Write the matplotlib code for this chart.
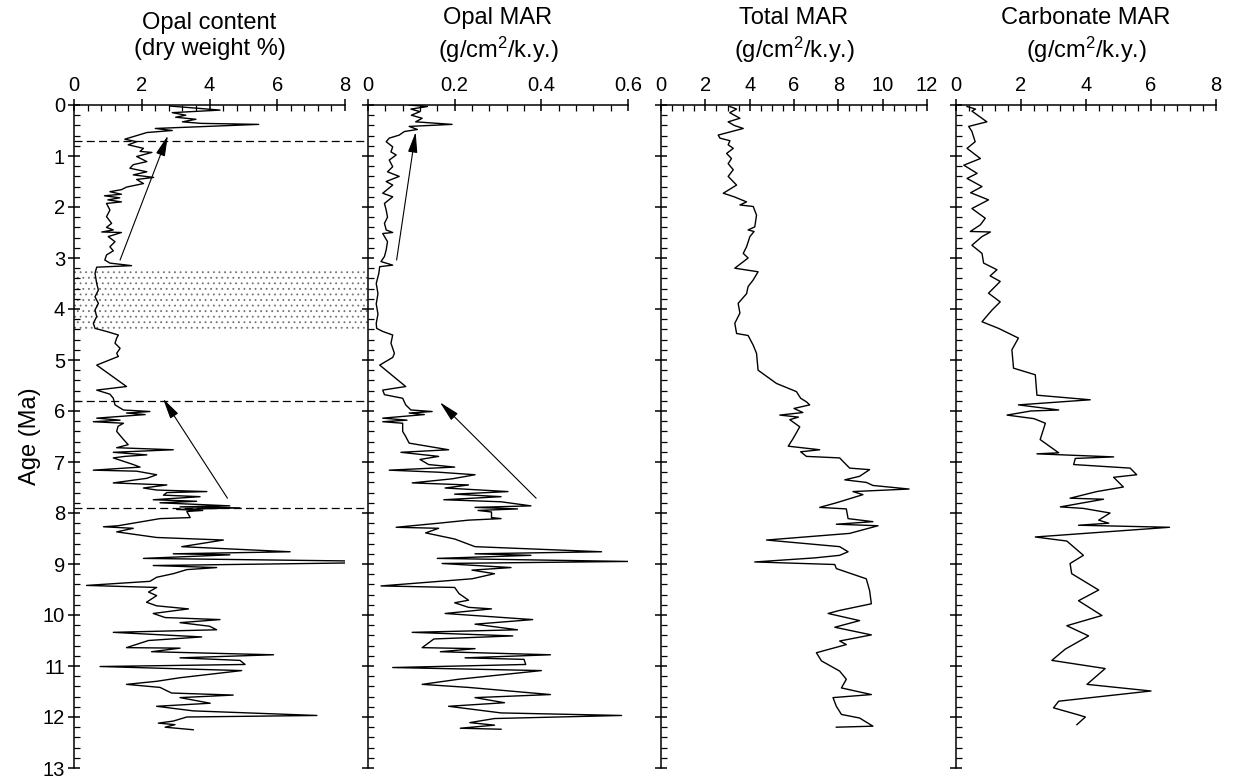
#!/usr/bin/env python3
import matplotlib
matplotlib.use("Agg")
import matplotlib.pyplot as plt
from matplotlib.patches import Rectangle
from matplotlib.ticker import MultipleLocator
import matplotlib.transforms as mtransforms

plt.rcParams["font.family"] = ["Liberation Sans", "DejaVu Sans"]
plt.rcParams["mathtext.default"] = "regular"
plt.rcParams["hatch.linewidth"] = 0.6

# Opal content (dry weight %)
opal_age = [0.02, 0.10, 0.15, 0.20, 0.24, 0.28, 0.33, 0.36, 0.38, 0.46, 0.50, 0.54, 0.62,
            0.67, 0.72, 0.78, 0.85, 0.91, 0.93, 1.01, 1.11, 1.17, 1.24, 1.31, 1.37, 1.42,
            1.46, 1.54, 1.61, 1.66, 1.70, 1.75, 1.78, 1.82, 1.86, 1.90, 1.93, 2.06, 2.19,
            2.32, 2.40, 2.45, 2.49, 2.50, 2.58, 2.68, 2.78, 2.86, 2.94, 3.04, 3.10, 3.15,
            3.18, 3.30, 3.50, 3.63, 3.76, 3.89, 4.02, 4.15, 4.28, 4.38, 4.44, 4.51, 4.57,
            4.67, 4.77, 4.87, 4.93, 5.10, 5.52, 5.59, 5.67, 5.75, 5.88, 5.98, 6.01, 6.04,
            6.07, 6.14, 6.18, 6.21, 6.24, 6.30, 6.40, 6.55, 6.66, 6.72, 6.76, 6.81, 6.86,
            6.89, 6.92, 7.05, 7.10, 7.16, 7.18, 7.25, 7.32, 7.41, 7.45, 7.51, 7.55, 7.58,
            7.60, 7.65, 7.68, 7.74, 7.77, 7.80, 7.86, 7.88, 7.90, 7.93, 7.95, 7.97, 8.09,
            8.11, 8.20, 8.25, 8.27, 8.30, 8.37, 8.48, 8.53, 8.66, 8.76, 8.80, 8.82, 8.89,
            8.94, 8.98, 9.03, 9.07, 9.11, 9.19, 9.26, 9.34, 9.42, 9.46, 9.55, 9.62, 9.75,
            9.82, 9.88, 9.97, 10.05, 10.09, 10.15, 10.22, 10.29, 10.34, 10.43, 10.50,
            10.64, 10.65, 10.72, 10.78, 10.84, 10.89, 10.97, 11.01, 11.09, 11.23, 11.30,
            11.36, 11.42, 11.53, 11.57, 11.62, 11.73, 11.79, 11.88, 11.97, 12.00, 12.08,
            12.12, 12.15, 12.20, 12.25]
opal_pct = [2.83, 4.31, 2.9, 3.3, 3.0, 3.6, 3.2, 3.75, 5.45, 2.4, 2.9, 2.15, 1.75,
            1.5, 1.85, 1.6, 2.05, 1.95, 2.3, 1.85, 2.15, 1.75, 1.65, 2.15, 1.75, 2.35,
            1.85, 2.05, 1.55, 1.4, 1.06, 1.4, 0.9, 1.35, 1.0, 1.4, 0.96, 1.06, 0.96,
            1.11, 0.96, 1.16, 0.82, 1.4, 1.01, 1.21, 1.06, 1.16, 0.96, 0.91, 1.06, 1.7,
            0.67, 0.62, 0.67, 0.72, 0.62, 0.72, 0.62, 0.67, 0.57, 0.62, 0.96, 1.31, 1.26,
            1.21, 1.36, 1.26, 1.31, 0.67, 1.55, 0.67, 1.06, 1.16, 1.21, 1.46, 2.24, 1.55,
            2.1, 0.67, 1.36, 0.57, 1.46, 1.3, 1.26, 1.45, 1.6, 1.26, 2.93, 1.16, 2.15,
            1.5, 1.16, 1.75, 1.95, 0.57, 1.85, 2.44, 2.15, 1.16, 2.74, 2.05, 2.44, 3.92,
            2.74, 2.64, 3.72, 2.34, 3.62, 2.54, 4.6, 3.13, 4.9, 3.03, 3.8, 3.33, 3.43,
            2.54, 1.75, 1.3, 0.87, 1.75, 1.26, 2.44, 4.41, 3.18, 6.38, 2.93, 4.6, 2.05,
            8.05, 8.05, 2.34, 4.21, 3.33, 2.93, 2.44, 2.24, 0.37, 2.44, 2.2, 2.44, 2.14,
            2.44, 3.38, 2.34, 2.69, 4.31, 3.13, 4.0, 4.21, 1.16, 3.77, 2.2,
            1.55, 3.13, 2.29, 5.89, 3.13, 4.9, 5.05, 0.77, 4.95, 3.13, 2.44,
            1.55, 2.54, 2.88, 4.7, 3.13, 4.02, 2.44, 3.52, 7.17, 3.33, 2.93,
            2.49, 2.98, 2.69, 3.52]

# Opal MAR (g/cm2/k.y.)
opalmar_age = [0.0, 0.03, 0.08, 0.13, 0.20, 0.26, 0.33, 0.38, 0.42, 0.48, 0.52, 0.59, 0.65,
               0.72, 0.82, 0.92, 0.98, 1.08, 1.21, 1.31, 1.40, 1.50, 1.57, 1.73, 1.80, 1.93,
               2.06, 2.20, 2.32, 2.45, 2.50, 2.52, 2.68, 2.84, 2.97, 3.07, 3.14, 3.17, 3.30,
               3.50, 3.70, 3.90, 4.10, 4.28, 4.38, 4.44, 4.51, 4.67, 4.87, 4.95, 5.10, 5.52,
               5.59, 5.68, 5.75, 5.88, 5.98, 6.01, 6.04, 6.07, 6.14, 6.18, 6.21, 6.24, 6.40,
               6.50, 6.63, 6.76, 6.81, 6.89, 6.95, 7.05, 7.10, 7.16, 7.20, 7.25, 7.33, 7.41,
               7.45, 7.51, 7.58, 7.63, 7.68, 7.74, 7.78, 7.86, 7.89, 7.92, 7.95, 7.98, 8.09,
               8.11, 8.14, 8.20, 8.28, 8.30, 8.39, 8.51, 8.66, 8.76, 8.80, 8.83, 8.89, 8.95,
               8.99, 9.07, 9.12, 9.19, 9.29, 9.43, 9.46, 9.58, 9.71, 9.76, 9.85, 9.88, 9.97,
               10.09, 10.18, 10.29, 10.34, 10.41, 10.47, 10.64, 10.66, 10.72, 10.78, 10.84,
               10.87, 10.97, 11.03, 11.09, 11.26, 11.36, 11.42, 11.56, 11.62, 11.72, 11.79,
               11.92, 11.97, 12.03, 12.11, 12.16, 12.22, 12.24]
opalmar = [0.095, 0.137, 0.099, 0.12, 0.1, 0.125, 0.11, 0.194, 0.095, 0.114, 0.084, 0.072, 0.049,
           0.042, 0.057, 0.053, 0.065, 0.049, 0.057, 0.045, 0.072, 0.042, 0.057, 0.034, 0.057, 0.038,
           0.042, 0.045, 0.038, 0.042, 0.057, 0.034, 0.045, 0.042, 0.038, 0.03, 0.057, 0.027, 0.025,
           0.019, 0.023, 0.019, 0.023, 0.019, 0.02, 0.034, 0.057, 0.053, 0.061, 0.057, 0.027, 0.087,
           0.034, 0.038, 0.08, 0.087, 0.099, 0.148, 0.095, 0.13, 0.034, 0.09, 0.034, 0.08, 0.08,
           0.087, 0.095, 0.186, 0.076, 0.163, 0.12, 0.14, 0.2, 0.049, 0.163, 0.247, 0.194, 0.102,
           0.232, 0.178, 0.323, 0.2, 0.307, 0.175, 0.307, 0.376, 0.247, 0.345, 0.254, 0.285, 0.285,
           0.307, 0.232, 0.163, 0.065, 0.163, 0.133, 0.2, 0.247, 0.539, 0.247, 0.376, 0.16, 0.6,
           0.171, 0.33, 0.24, 0.292, 0.24, 0.03, 0.2, 0.21, 0.232, 0.2, 0.232, 0.285, 0.178,
           0.38, 0.247, 0.345, 0.102, 0.334, 0.152, 0.125, 0.247, 0.167, 0.421, 0.224,
           0.36, 0.364, 0.057, 0.4, 0.209, 0.125, 0.232, 0.421, 0.247, 0.315, 0.186,
           0.307, 0.585, 0.292, 0.235, 0.292, 0.213, 0.307]

# Total MAR (g/cm2/k.y.)
total_age = [0.03, 0.08, 0.15, 0.26, 0.33, 0.40, 0.46, 0.59, 0.65, 0.70, 0.78, 0.85, 0.95,
             1.05, 1.15, 1.27, 1.40, 1.57, 1.73, 1.80, 1.90, 1.96, 1.99, 2.16, 2.39, 2.45,
             2.48, 2.58, 2.78, 2.91, 3.00, 3.20, 3.27, 3.43, 3.56, 3.70, 3.89, 4.08, 4.28,
             4.48, 4.52, 4.71, 4.87, 5.20, 5.46, 5.62, 5.75, 5.82, 5.88, 5.95, 6.03, 6.08,
             6.12, 6.17, 6.31, 6.54, 6.69, 6.76, 6.80, 6.89, 6.92, 7.12, 7.15, 7.28, 7.35,
             7.40, 7.46, 7.53, 7.58, 7.64, 7.74, 7.80, 7.89, 7.92, 8.11, 8.17, 8.22, 8.25,
             8.40, 8.53, 8.66, 8.76, 8.83, 8.88, 8.96, 9.01, 9.09, 9.29, 9.52, 9.78, 9.91,
             9.97, 10.11, 10.24, 10.39, 10.51, 10.58, 10.74, 10.90, 11.10, 11.26, 11.43,
             11.56, 11.62, 11.79, 11.95, 12.02, 12.18, 12.20]
total_mar = [3.11, 3.41, 3.1, 3.56, 3.03, 3.3, 3.71, 2.58, 2.66, 3.11, 3.03, 3.26, 2.96,
             3.18, 3.03, 3.26, 3.03, 3.41, 2.81, 3.3, 3.86, 3.56, 4.16, 4.31, 4.23, 3.93,
             4.2, 4.01, 3.86, 3.71, 3.93, 3.33, 4.38, 4.16, 3.93, 3.86, 3.48, 3.56, 3.33,
             3.41, 3.93, 4.16, 4.31, 4.38, 5.21, 6.11, 6.3, 6.56, 6.71, 6.0, 6.4, 5.36,
             6.2, 5.81, 6.26, 5.96, 5.74, 7.16, 6.3, 6.56, 8.06, 8.51, 9.41, 8.96, 8.29,
             9.26, 9.56, 11.19, 8.66, 9.11, 8.36, 7.91, 7.16, 8.36, 8.44, 9.56, 7.91, 9.79,
             8.51, 4.76, 8.06, 8.44, 8.06, 6.94, 4.23, 7.84, 7.91, 9.26, 9.41, 9.49, 8.06,
             7.54, 8.96, 7.84, 9.49, 8.06, 8.36, 7.01, 7.24, 8.06, 8.36, 8.14,
             9.49, 7.76, 7.91, 8.14, 8.96, 9.56, 7.91]

# Carbonate MAR (g/cm2/k.y.)
carb_age = [0.03, 0.08, 0.12, 0.33, 0.42, 0.52, 0.72, 0.85, 1.05, 1.18, 1.34, 1.44, 1.60,
            1.72, 1.86, 2.03, 2.22, 2.35, 2.48, 2.49, 2.58, 2.75, 2.91, 3.10, 3.23, 3.35,
            3.46, 3.69, 3.86, 4.02, 4.10, 4.25, 4.38, 4.57, 4.80, 5.16, 5.29, 5.69, 5.78,
            5.88, 5.98, 6.00, 6.08, 6.15, 6.24, 6.36, 6.56, 6.82, 6.84, 6.90, 6.93, 7.05,
            7.12, 7.25, 7.30, 7.49, 7.58, 7.71, 7.73, 7.88, 7.91, 8.00, 8.14, 8.20, 8.24,
            8.28, 8.47, 8.55, 8.83, 8.99, 9.19, 9.51, 9.72, 10.01, 10.21, 10.41, 10.67,
            10.89, 11.05, 11.36, 11.49, 11.69, 11.82, 11.95, 12.00, 12.15]
carb_mar = [0.34, 0.6, 0.49, 0.95, 0.39, 0.49, 0.59, 0.34, 0.75, 0.24, 0.65, 0.34, 0.8,
            0.45, 1.0, 0.49, 0.9, 0.75, 0.44, 1.06, 0.8, 0.49, 0.8, 0.85, 1.26, 1.05,
            1.36, 1.0, 1.36, 1.11, 1.0, 0.8, 1.31, 1.92, 1.72, 1.77, 2.44, 2.49, 4.13,
            1.92, 3.16, 2.3, 1.57, 2.4, 2.75, 2.69, 2.59, 3.16, 2.49, 4.85, 3.67, 3.62,
            5.36, 5.56, 4.85, 5.15, 4.33, 3.51, 4.54, 3.21, 3.92, 4.74, 4.39, 4.7, 3.77,
            6.57, 2.44, 3.41, 3.92, 3.51, 3.56, 4.39, 3.77, 4.49, 3.41, 4.08, 3.36,
            2.95, 4.59, 4.03, 6.0, 3.16, 3.0, 3.72, 3.98, 3.72]

titles = ["Opal content\n(dry weight %)", "Opal MAR\n(g/cm$^2$/k.y.)",
          "Total MAR\n(g/cm$^2$/k.y.)", "Carbonate MAR\n(g/cm$^2$/k.y.)"]
xlims = [(0, 8), (0, 0.6), (0, 12), (0, 8)]
xmajor = [2, 0.2, 2, 2]
xminor = [0.4, 0.04, 0.5, 0.4]
boundaries = [0.7, 5.8, 7.9]
band = (3.2, 4.4)

W, H = 1233, 781
fig = plt.figure(figsize=(W / 100, H / 100), dpi=100)
lefts = [74, 368, 661, 956]
widths = [271, 260, 266, 260]
top, bottom = 105, 768
axes = []
for i in range(4):
    ax = fig.add_axes([lefts[i] / W, 1 - bottom / H, widths[i] / W, (bottom - top) / H])
    axes.append(ax)

series = [(opal_pct, opal_age), (opalmar, opalmar_age), (total_mar, total_age), (carb_mar, carb_age)]
fs = 14.5
title_fs = 17
for i, ax in enumerate(axes):
    x, y = series[i]
    ax.plot(x, y, color="black", lw=1.0, zorder=3)
    ax.set_xlim(*xlims[i])
    ax.set_ylim(13, 0)
    for s in ["right", "bottom"]:
        ax.spines[s].set_visible(False)
    for s in ["left", "top"]:
        ax.spines[s].set_linewidth(1.1)
    ax.xaxis.tick_top()
    ax.xaxis.set_major_locator(MultipleLocator(xmajor[i]))
    ax.xaxis.set_minor_locator(MultipleLocator(xminor[i]))
    ax.yaxis.set_major_locator(MultipleLocator(1))
    ax.yaxis.set_minor_locator(MultipleLocator(0.2))
    ax.tick_params(axis="both", which="major", direction="inout", length=9, width=1.1,
                   labelsize=fs, pad=2)
    ax.tick_params(axis="both", which="minor", direction="in", length=4, width=0.9)
    ax.tick_params(axis="x", which="major", pad=3)
    if i == 1:
        ax.set_xticks([0, 0.2, 0.4, 0.6])
        ax.set_xticklabels(["0", "0.2", "0.4", "0.6"])
    if i > 0:
        ax.tick_params(axis="y", labelleft=False)
    cx = (lefts[i] + widths[i] / 2) / W
    fig.text(cx, 1 - 36 / H, titles[i], ha="center", va="center", fontsize=title_fs,
             linespacing=1.25)

axes[0].set_ylabel("Age (Ma)", fontsize=title_fs, labelpad=1)

# stippled band and boundary lines spanning the two opal panels
ax1 = axes[0]
trans = mtransforms.blended_transform_factory(ax1.transAxes, ax1.transData)
span = (623 - 74) / 271
ax1.add_patch(Rectangle((0, band[0]), span, band[1] - band[0], transform=trans,
                        facecolor="none", edgecolor="0.45", hatch="...", lw=0,
                        clip_on=False, zorder=1))
dash_end = (620 - 74) / 271
for b in boundaries:
    ax1.plot([0, dash_end], [b, b], transform=trans, color="black", lw=0.9,
             ls=(0, (6.4, 3.4)), clip_on=False, zorder=2)

arrow_kw = dict(arrowstyle="-|>,head_length=0.7,head_width=0.16", color="black",
                lw=0.8, mutation_scale=18, shrinkA=0, shrinkB=0)
axes[0].annotate("", xy=(2.77, 0.6), xytext=(1.36, 3.04), arrowprops=arrow_kw, zorder=4)
axes[0].annotate("", xy=(2.63, 5.76), xytext=(4.53, 7.71), arrowprops=arrow_kw, zorder=4)
axes[1].annotate("", xy=(0.11, 0.53), xytext=(0.066, 3.04), arrowprops=arrow_kw, zorder=4)
axes[1].annotate("", xy=(0.166, 5.83), xytext=(0.388, 7.71), arrowprops=arrow_kw, zorder=4)

fig.savefig("out.png", dpi=100)
plt.close(fig)
